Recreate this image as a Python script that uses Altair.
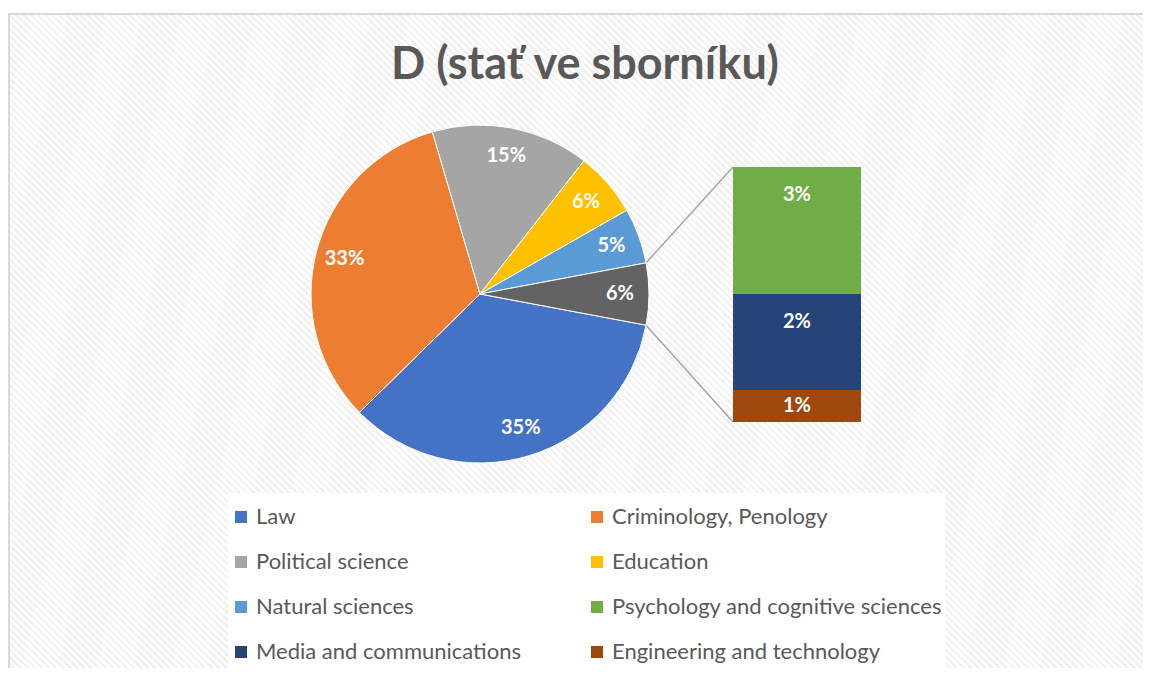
import math
import altair as alt
import pandas as pd

# ---------------- data ----------------
TITLE = "D (stať ve sborníku)"
PIE_CATS = ["Law", "Criminology, Penology", "Political science", "Education",
            "Natural sciences", "Other"]
PIE_VALUES = [34.7, 32.8, 15.1, 6.2, 5.3, 5.9]
PIE_LABELS = ["35%", "33%", "15%", "6%", "5%", "6%"]

BAR_CATS = ["Psychology and cognitive sciences", "Media and communications",
            "Engineering and technology"]
BAR_VALUES = [2.94, 2.22, 0.74]
BAR_LABELS = ["3%", "2%", "1%"]

COLORS = {
    "Law": "#4472C4",
    "Criminology, Penology": "#ED7D31",
    "Political science": "#A5A5A5",
    "Education": "#FFC000",
    "Natural sciences": "#5B9BD5",
    "Psychology and cognitive sciences": "#70AD47",
    "Media and communications": "#264478",
    "Engineering and technology": "#9E480E",
    "Other": "#636363",
}

# ---------------- layout ----------------
W, H = 1135, 660
CX, CY, R = 472, 286, 169
LABEL_R = 140
BAR_L, BAR_R, BAR_T, BAR_B = 725, 853, 159, 414
FONT = "Lato"
TEXT_GRAY = "#595959"

total_pie = sum(PIE_VALUES)
total_bar = sum(BAR_VALUES)
# Excel "bar of pie": the aggregated slice is centred at 3 o'clock
start = math.pi / 2 + math.pi * PIE_VALUES[-1] / total_pie

# legend entries in reading order (row by row, two columns)
legend_rows = PIE_CATS[:-1] + BAR_CATS
# Vega fills legend columns top-to-bottom, so reorder column-wise
legend_cats = legend_rows[0::2] + legend_rows[1::2]
domain = legend_cats + ["Other"]
color_scale = alt.Scale(domain=domain, range=[COLORS[c] for c in domain])
legend = alt.Legend(
    orient="none", legendX=222, legendY=498, columns=2, title=None,
    symbolType="square", symbolSize=144, symbolStrokeWidth=0,
    labelFont=FONT, labelFontSize=22, labelColor=TEXT_GRAY, labelOffset=4,
    rowPadding=23, columnPadding=65, padding=0, values=legend_cats,
    labelLimit=600,
)

one = pd.DataFrame({"k": [0]})

# ---------------- background with diagonal stripes ----------------
BOX_H = 700
r = BOX_H / W
s1 = -r / (1 + r * r)
s2 = 1 / (1 + r * r)
period = 7.0
n = int(math.ceil((W + BOX_H) / period))
stops = []
for i in range(n):
    a = i / n
    m = (i + 0.5) / n
    b = (i + 1) / n
    stops += [alt.GradientStop(offset=a, color="#f2f2f2"),
              alt.GradientStop(offset=m, color="#f2f2f2"),
              alt.GradientStop(offset=m, color="#ffffff"),
              alt.GradientStop(offset=b, color="#ffffff")]
grad = alt.LinearGradient(gradient="linear", stops=stops,
                          x1=s1, y1=-r * s1, x2=s2, y2=-r * s2)

background = alt.Chart(one).mark_rect(
    fill=grad, stroke="#d9d9d9", strokeWidth=2
).encode(x=alt.value(1), x2=alt.value(W + 20), y=alt.value(6), y2=alt.value(6 + BOX_H))

legend_box = alt.Chart(one).mark_rect(fill="#ffffff").encode(
    x=alt.value(220), x2=alt.value(937), y=alt.value(485), y2=alt.value(H + 20)
)

# ---------------- connectors ----------------
a_top = start + 2 * math.pi * sum(PIE_VALUES[:-1]) / total_pie
a_bot = start
conn_df = pd.DataFrame({
    "x": [CX + R * math.sin(a_top), CX + R * math.sin(a_bot)],
    "y": [CY - R * math.cos(a_top), CY - R * math.cos(a_bot)],
    "x2": [BAR_L, BAR_L],
    "y2": [BAR_T, BAR_B],
})
connectors = alt.Chart(conn_df).mark_rule(color="#a6a6a6", strokeWidth=1.5).encode(
    x=alt.X("x:Q", scale=None), y=alt.Y("y:Q", scale=None),
    x2="x2:Q", y2="y2:Q",
)

# ---------------- pie ----------------
pie_df = pd.DataFrame({"cat": PIE_CATS, "value": PIE_VALUES,
                       "label": PIE_LABELS, "i": list(range(len(PIE_CATS)))})
theta = alt.Theta("value:Q", stack=True,
                  scale=alt.Scale(domain=[0, total_pie],
                                  range=[start, start + 2 * math.pi]))
pie = alt.Chart(pie_df).mark_arc(outerRadius=R, stroke="#ffffff", strokeWidth=1).encode(
    theta=theta,
    color=alt.Color("cat:N", scale=color_scale, legend=legend),
    order=alt.Order("i:Q"),
    x=alt.value(CX), y=alt.value(CY),
)
pie_text = alt.Chart(pie_df).mark_text(
    radius=LABEL_R, font=FONT, fontSize=20, fontWeight="bold", color="#ffffff"
).encode(
    theta=theta, text="label:N", order=alt.Order("i:Q"),
    x=alt.value(CX), y=alt.value(CY),
)

# ---------------- bar ----------------
bar_df = pd.DataFrame({"cat": BAR_CATS, "value": BAR_VALUES,
                       "label": BAR_LABELS, "i": list(range(len(BAR_CATS)))})
yscale = alt.Scale(domain=[0, total_bar], range=[BAR_B, BAR_T])
off = 28 * total_bar / (BAR_B - BAR_T)
bar_base = alt.Chart(bar_df).transform_stack(
    stack="value", groupby=[], as_=["y0", "y1"],
    sort=[alt.SortField("i", order="descending")],
).transform_calculate(ly=f"datum.y1 - min({off}, datum.value / 2)")
bar = bar_base.mark_bar().encode(
    x=alt.value(BAR_L), x2=alt.value(BAR_R),
    y=alt.Y("y0:Q", scale=yscale, axis=None), y2="y1:Q",
    color=alt.Color("cat:N", scale=color_scale, legend=legend),
)
bar_text = bar_base.mark_text(
    font=FONT, fontSize=20, fontWeight="bold", color="#ffffff", baseline="middle"
).encode(
    x=alt.value((BAR_L + BAR_R) / 2),
    y=alt.Y("ly:Q", scale=yscale, axis=None),
    text="label:N",
)

# ---------------- title ----------------
title = alt.Chart(one).mark_text(
    text=TITLE, font=FONT, fontSize=45, fontWeight="bold", color=TEXT_GRAY,
    align="center", baseline="alphabetic"
).encode(x=alt.value(577), y=alt.value(71))

chart = alt.layer(
    background, legend_box, connectors, pie, pie_text, bar, bar_text, title
).properties(
    width=W, height=H, padding=0, autosize=alt.AutoSizeParams(type="none")
).configure_view(strokeWidth=0)

chart.save("out.html", embed_options={"renderer": "svg", "actions": False})
